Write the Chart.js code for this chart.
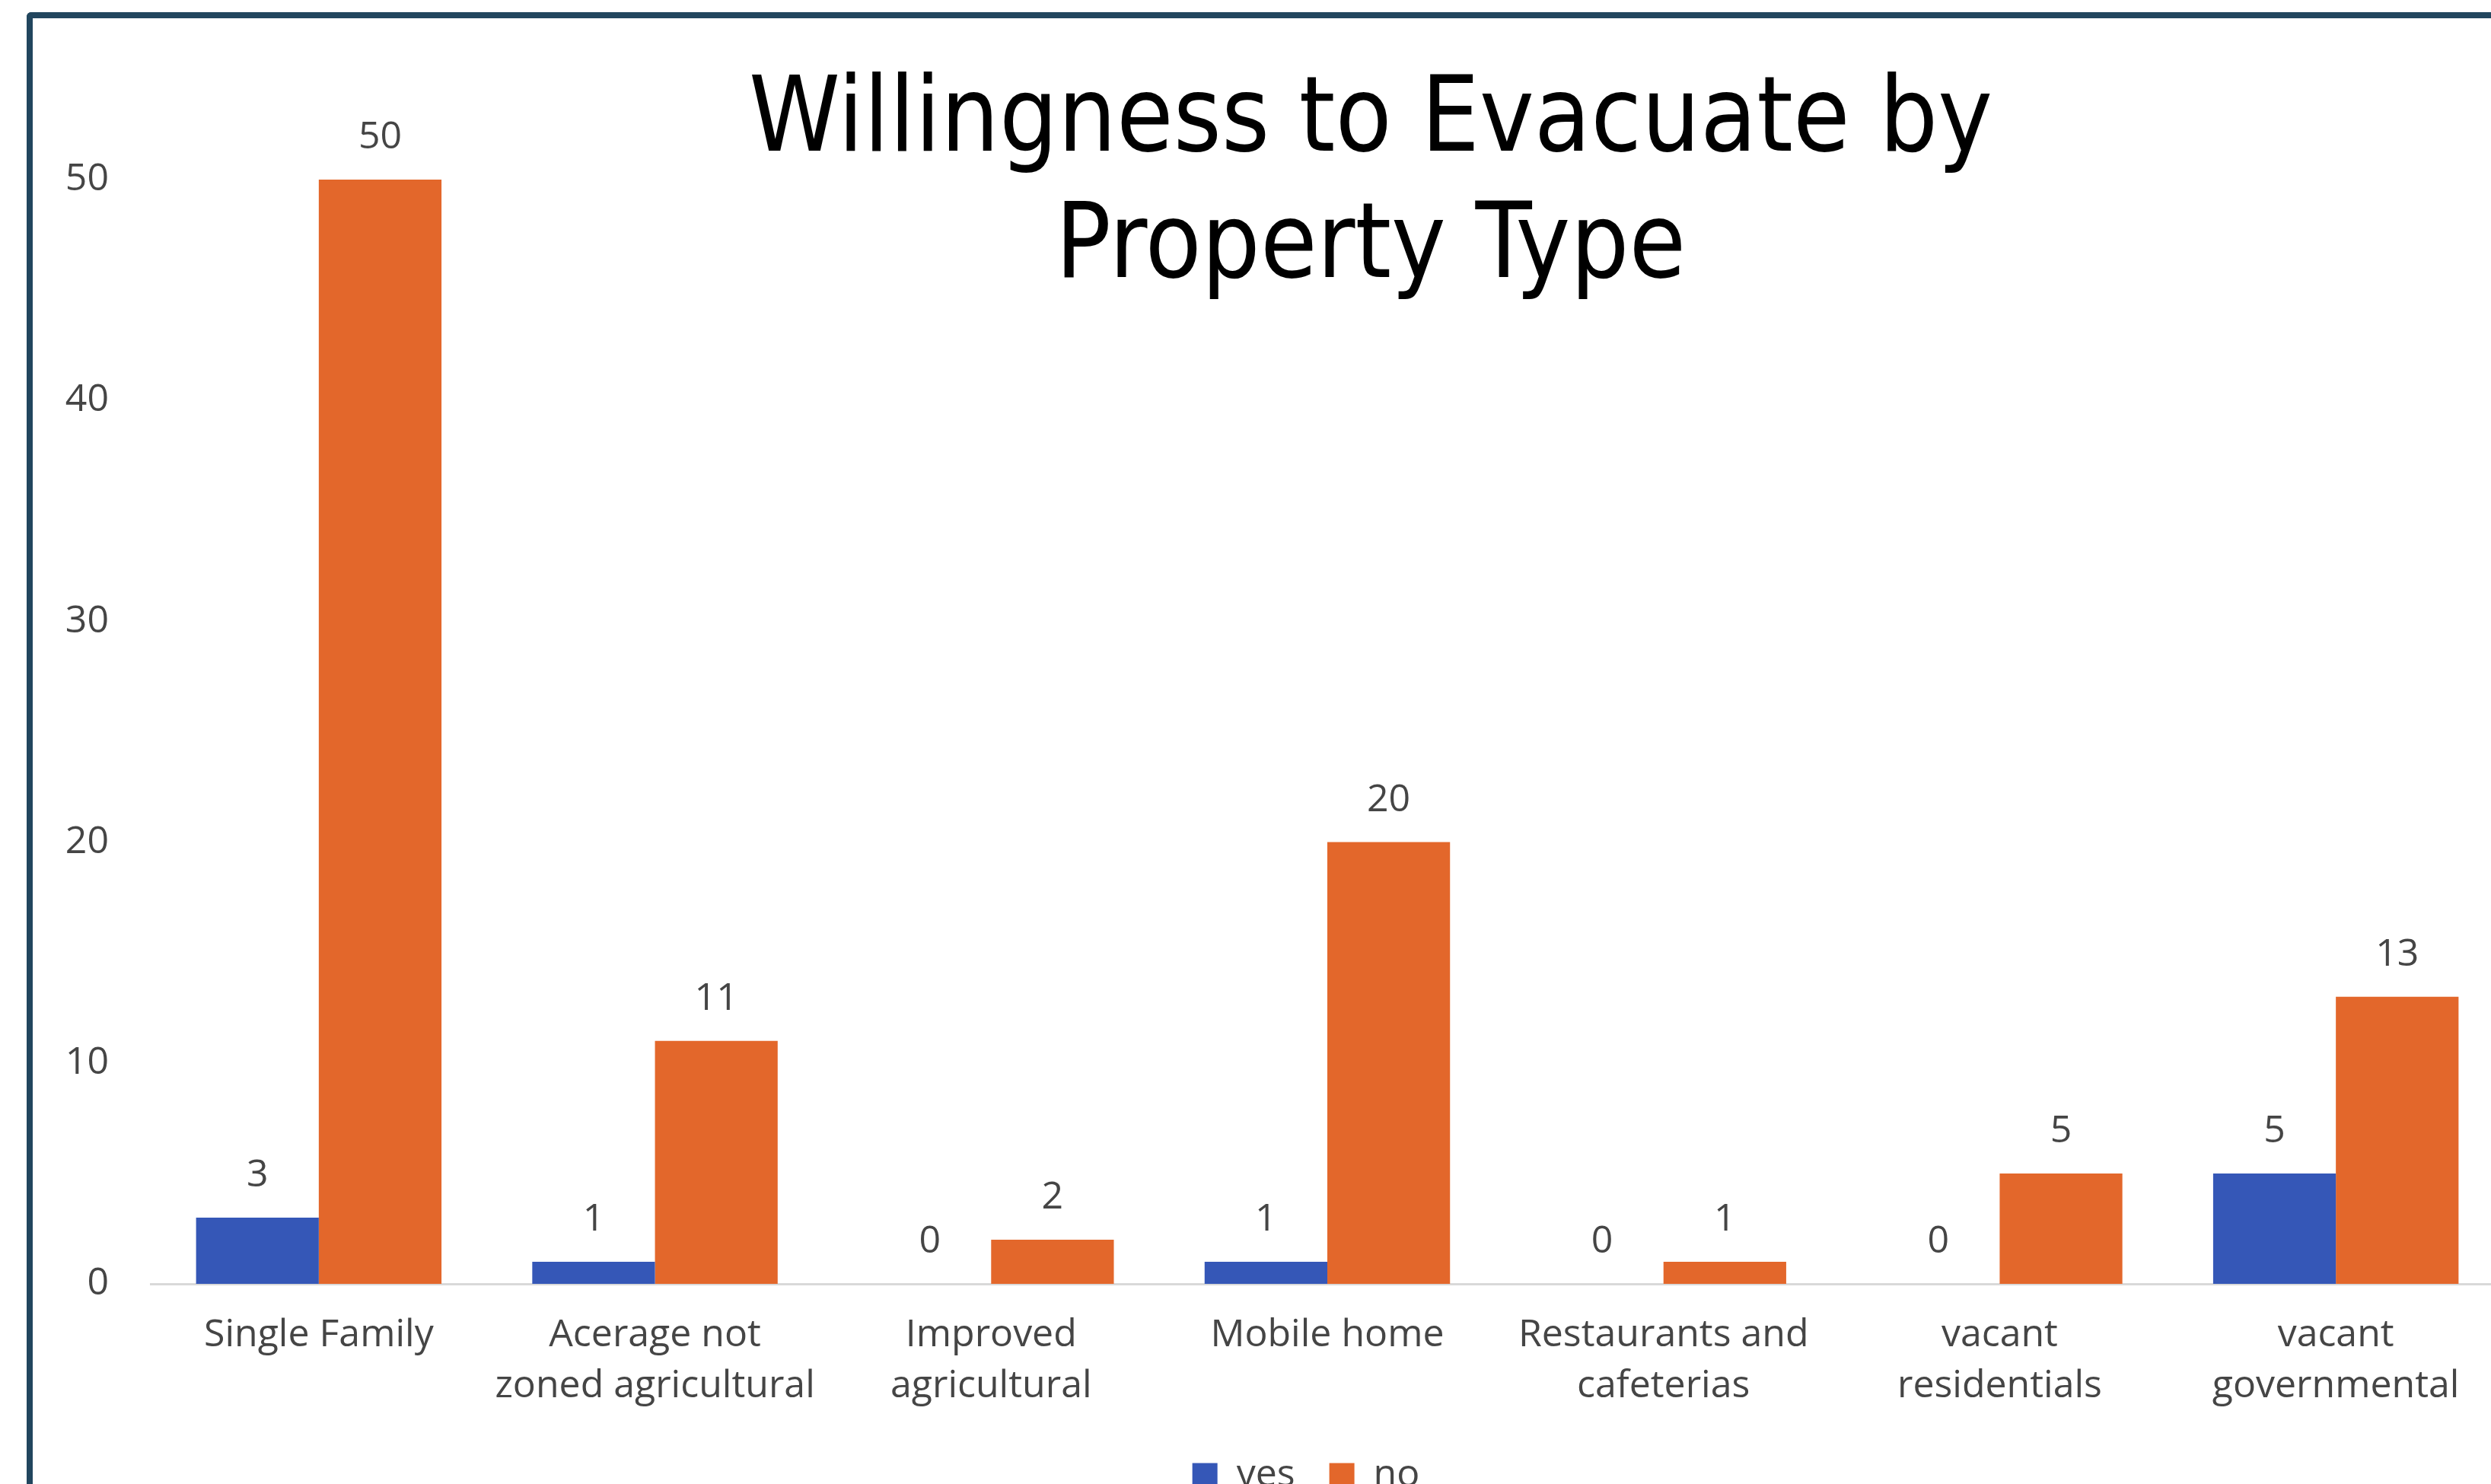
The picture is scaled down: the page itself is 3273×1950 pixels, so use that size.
<!DOCTYPE html>
<html>
<head>
<meta charset="utf-8">
<title>Willingness to Evacuate by Property Type</title>
<script src="https://cdn.jsdelivr.net/npm/chart.js@4.4.1/dist/chart.umd.min.js"></script>
<style>
    html, body {
        margin: 0;
        padding: 0;
        width: 3273px;
        height: 1950px;
        overflow: hidden;
        background: #ffffff;
    }
    .frame {
        position: absolute;
        left: 35px;
        top: 16px;
        width: 4000px;
        height: 4000px;
        border-left: 8px solid #22465e;
        border-top: 8px solid #22465e;
        border-top-left-radius: 6px;
    }
    .chart-title {
        position: absolute;
        left: 601px;
        top: 68px;
        width: 2400px;
        text-align: center;
        font-family: 'DejaVu Sans Condensed', 'DejaVu Sans', sans-serif;
        font-stretch: condensed;
        font-size: 138px;
        line-height: 166px;
        color: #000000;
        transform: scaleX(0.978);
        transform-origin: 1200px 0;
    }
    .chart-wrapper {
        position: absolute;
        left: 0;
        top: 0;
        width: 3432px;
        height: 2000px;
    }
</style>
</head>
<body>
<div class="frame"></div>
<div class="chart-title">Willingness to Evacuate by<br>Property Type</div>
<div class="chart-wrapper">
    <canvas id="evacuationChart" width="3432" height="2000"></canvas>
</div>
<script>
(function () {
    'use strict';

    var categories = [
        ['Single Family'],
        ['Acerage not', 'zoned agricultural'],
        ['Improved', 'agricultural'],
        ['Mobile home'],
        ['Restaurants and', 'cafeterias'],
        ['vacant', 'residentials'],
        ['vacant', 'governmental']
    ];
    var yesValues = [3, 1, 0, 1, 0, 0, 5];
    var noValues = [50, 11, 2, 20, 1, 5, 13];
    var yTicks = [0, 10, 20, 30, 40, 50];

    var textColor = '#454545';
    var baseFont = "'Open Sans', 'Noto Sans', sans-serif";

    // values above each bar, zeros included
    var valueLabels = {
        id: 'valueLabels',
        afterDatasetsDraw: function (chart) {
            var ctx = chart.ctx;
            ctx.save();
            ctx.font = '50px ' + baseFont;
            ctx.fillStyle = textColor;
            ctx.textAlign = 'center';
            ctx.textBaseline = 'middle';
            chart.data.datasets.forEach(function (ds, i) {
                var meta = chart.getDatasetMeta(i);
                meta.data.forEach(function (bar, j) {
                    ctx.fillText(String(ds.data[j]), bar.x, bar.y - 55);
                });
            });
            ctx.restore();
        }
    };

    // the original legend sits a bit right of the canvas centre
    var legendShift = {
        id: 'legendShift',
        afterLayout: function (chart) {
            if (!chart.legend) return;
            chart.legend.left += 71;
            chart.legend.right += 71;
        }
    };

    function renderChart() {
        var canvas = document.getElementById('evacuationChart');
        if (!canvas || typeof Chart === 'undefined') return false;

        new Chart(canvas, {
            type: 'bar',
            data: {
                labels: categories,
                datasets: [{
                    label: 'yes',
                    data: yesValues,
                    backgroundColor: '#3557b7',
                    borderWidth: 0
                }, {
                    label: 'no',
                    data: noValues,
                    backgroundColor: '#e3672b',
                    borderWidth: 0
                }]
            },
            options: {
                responsive: false,
                devicePixelRatio: 1,
                animation: false,
                layout: {
                    padding: { left: 0, right: 142, top: 236, bottom: 26 }
                },
                datasets: {
                    bar: { categoryPercentage: 0.73, barPercentage: 1 }
                },
                scales: {
                    x: {
                        grid: { display: false, drawTicks: false },
                        border: { display: true, color: '#d9d9d9', width: 3 },
                        ticks: {
                            color: textColor,
                            padding: 34,
                            maxRotation: 0,
                            autoSkip: false,
                            font: { family: baseFont, size: 50, lineHeight: 1.34 }
                        },
                        afterFit: function (scale) { scale.height = 182; }
                    },
                    y: {
                        min: 0,
                        max: 50,
                        afterBuildTicks: function (scale) {
                            scale.ticks = yTicks.map(function (v) { return { value: v }; });
                        },
                        grid: { display: false, drawTicks: false },
                        border: { display: false },
                        ticks: {
                            color: textColor,
                            padding: 55,
                            font: { family: baseFont, size: 50 }
                        },
                        afterFit: function (scale) { scale.width = 198; }
                    }
                },
                plugins: {
                    legend: {
                        position: 'bottom',
                        labels: {
                            color: textColor,
                            boxWidth: 33,
                            boxHeight: 33,
                            padding: 45,
                            font: { family: baseFont, size: 50 }
                        }
                    },
                    title: { display: false },
                    tooltip: { enabled: false }
                }
            },
            plugins: [valueLabels, legendShift]
        });
        return true;
    }

    if (document.readyState === 'loading') {
        document.addEventListener('DOMContentLoaded', renderChart);
    } else {
        renderChart();
    }
})();
</script>
</body>
</html>
